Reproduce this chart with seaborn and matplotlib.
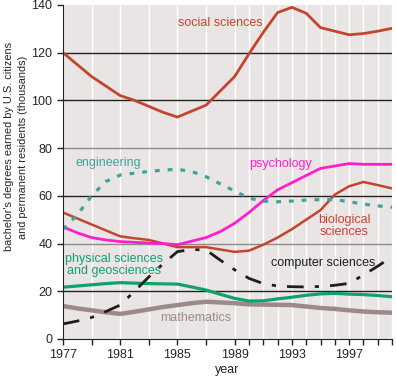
import numpy as np
import pandas as pd
import matplotlib
matplotlib.use("Agg")
import matplotlib.pyplot as plt
import seaborn as sns

# --- data (thousands of bachelor's degrees) ---
years = list(range(1977, 2001))
social = [120, 115, 110, 106, 102, 100, 97.5, 95, 93, 95.5, 98, 104,
          110, 119.5, 128.5, 136.8, 139, 136.5, 130.5, 129, 127.5, 128, 129, 130.2]
psychology = [47, 44.5, 42.5, 41.5, 40.8, 40.5, 40.2, 40, 39.5, 41, 42.5, 45,
              48.5, 53, 58, 62.5, 65.5, 68.5, 71.5, 72.5, 73.5, 73.2, 73.2, 73.2]
biology = [53, 50.5, 48, 45.5, 43, 42.2, 41.5, 40, 38.5, 38.5, 38.5, 37.5,
           36.5, 37, 39.5, 42.5, 46, 50, 54, 60.5, 64, 65.8, 64.5, 63.1]
engineering = [46, 52, 60, 66, 68.7, 69.5, 70.2, 70.8, 71.1, 70.2, 68, 65,
               62, 59, 57.8, 57.5, 57.8, 58.2, 58.4, 58.5, 57.5, 56.5, 55.8, 55.2]
computer = [6.3, 7.5, 9, 11.5, 14.2, 20, 26, 31.5, 36.6, 37.5, 37.3, 33,
            29, 25.4, 23.2, 22.2, 21.9, 21.8, 22, 22.5, 23.3, 26.8, 30.5, 34.5]
physical = [21.7, 22.2, 22.7, 23.2, 23.6, 23.4, 23.2, 23.1, 23, 21.8, 20.5, 18.7,
            17, 15.9, 16, 16.8, 17.5, 18.3, 18.9, 19.1, 18.8, 18.6, 18.2, 17.7]
mathematics = [13.8, 12.8, 12, 11.2, 10.5, 11.4, 12.4, 13.4, 14.2, 15, 15.6, 15.3,
               15, 14.5, 14.4, 14.3, 14.2, 13.6, 13, 12.6, 12, 11.5, 11.2, 11]

tick_years = [1977, 1979, 1981, 1983, 1985, 1987] + list(range(1989, 2001))
label_years = [1977, 1981, 1985, 1989, 1993, 1997]

df = pd.DataFrame({"year": years, "social": social, "psychology": psychology,
                   "biology": biology, "engineering": engineering,
                   "computer": computer, "physical": physical,
                   "mathematics": mathematics})

sns.set_style("ticks", {"axes.facecolor": "#e9e5e4"})
plt.rcParams["font.family"] = ["Liberation Sans", "DejaVu Sans"]

fig = plt.figure(figsize=(3.96, 3.80), dpi=100)
ax = fig.add_axes([0.159, 0.108, 0.831, 0.879])

# white grid at the tick years + horizontal reference lines
for y in tick_years:
    ax.axvline(y, color="white", lw=1.0, zorder=0)
for v, c in [(20, "#222222"), (40, "#8c8c8c"), (60, "#222222"),
             (80, "#8c8c8c"), (100, "#222222"), (120, "#222222")]:
    ax.axhline(v, color=c, lw=1.0, zorder=1)

red = "#c4452e"
sns.lineplot(data=df, x="year", y="mathematics", color="#9c8a8a", lw=3.2, ax=ax)
sns.lineplot(data=df, x="year", y="physical", color="#12a070", lw=2.3, ax=ax)
sns.lineplot(data=df, x="year", y="computer", color="#1e1e1e", lw=2.0,
             ax=ax).lines[-1].set_dashes([6, 4, 1.5, 4])
sns.lineplot(data=df, x="year", y="biology", color=red, lw=1.8, ax=ax)
sns.lineplot(data=df, x="year", y="psychology", color="#ff1ec8", lw=2.0, ax=ax)
sns.lineplot(data=df, x="year", y="engineering", color="#3fa39c", lw=2.3,
             ax=ax).lines[-1].set_dashes([1.5, 2.5])
sns.lineplot(data=df, x="year", y="social", color=red, lw=2.0, ax=ax)

fs = 9
ax.text(1988.0, 132.6, "social sciences", color=red, fontsize=fs, ha="center", va="center")
ax.text(1980.15, 73.8, "engineering", color="#3fa39c", fontsize=fs, ha="center", va="center")
ax.text(1992.2, 73.2, "psychology", color="#ff1ec8", fontsize=fs, ha="center", va="center")
ax.text(1996.65, 47.4, "biological\nsciences", color=red, fontsize=fs, ha="center",
        va="center", linespacing=1.0)
ax.text(1980.6, 31, "physical sciences\nand geosciences", color="#12a070",
        fontsize=fs, ha="center", va="center", linespacing=1.0)
ax.text(1995.2, 32, "computer sciences", color="#1e1e1e", fontsize=fs,
        ha="center", va="center")
ax.text(1986.3, 8.8, "mathematics", color="#9c8a8a", fontsize=fs, ha="center", va="center")

ax.set_xlim(1977, 2000)
ax.set_ylim(0, 140)
ax.set_xticks(tick_years)
ax.set_xticklabels([str(y) if y in label_years else "" for y in tick_years])
ax.set_yticks(range(0, 141, 20))
ax.tick_params(labelsize=fs, length=4, width=1, color="#222222")
ax.set_xlabel("year", fontsize=fs, labelpad=2)
ax.set_ylabel("bachelor's degrees earned by U.S. citizens\nand permanent residents (thousands)",
              fontsize=7.9, linespacing=1.5)
ax.yaxis.set_label_coords(-0.105, 0.575)
for s in ["top", "right"]:
    ax.spines[s].set_visible(False)
for s in ["left", "bottom"]:
    ax.spines[s].set_color("#222222")

fig.savefig("out.png", dpi=100)
